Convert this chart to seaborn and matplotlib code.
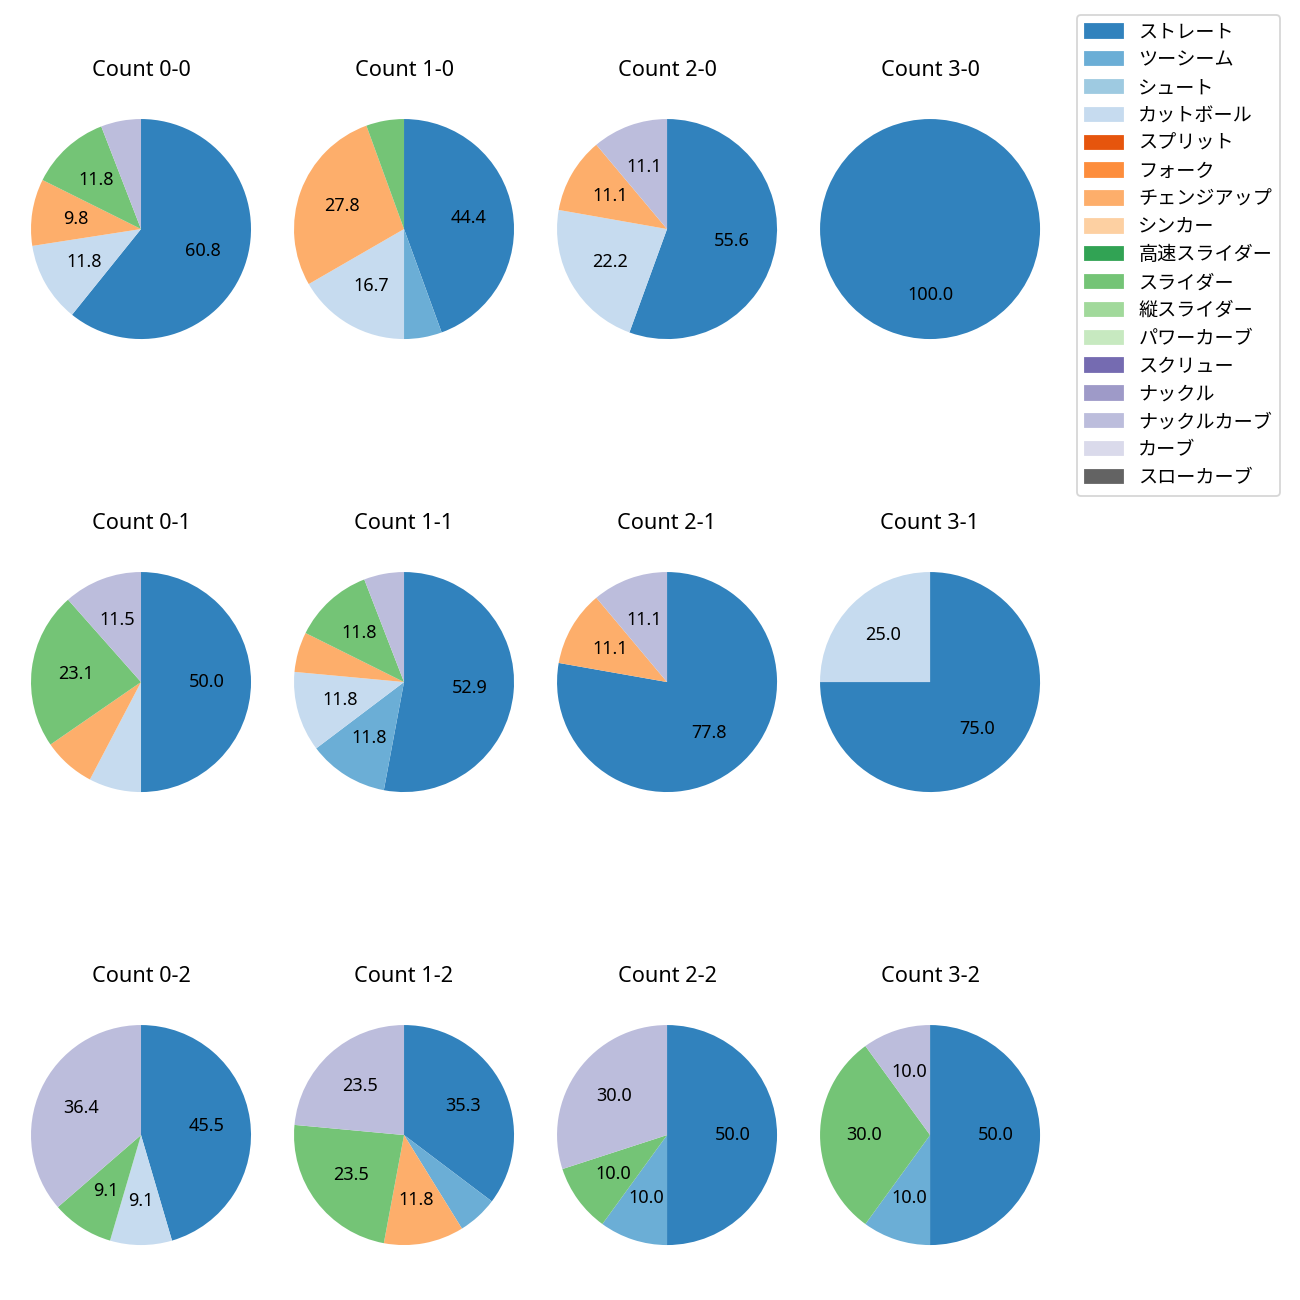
import matplotlib
matplotlib.use('Agg')
import matplotlib.pyplot as plt
from matplotlib.patches import Patch
import seaborn as sns

# 球種 (凡例の順番)
pitch_types = ['ストレート', 'ツーシーム', 'シュート', 'カットボール', 'スプリット', 'フォーク',
               'チェンジアップ', 'シンカー', '高速スライダー', 'スライダー', '縦スライダー',
               'パワーカーブ', 'スクリュー', 'ナックル', 'ナックルカーブ', 'カーブ', 'スローカーブ']

# カウント別の投球数 (pitch_types と同じ順番)
count_0_0 = [31, 0, 0, 6, 0, 0, 5, 0, 0, 6, 0, 0, 0, 0, 3, 0, 0]
count_1_0 = [8, 1, 0, 3, 0, 0, 5, 0, 0, 1, 0, 0, 0, 0, 0, 0, 0]
count_2_0 = [5, 0, 0, 2, 0, 0, 1, 0, 0, 0, 0, 0, 0, 0, 1, 0, 0]
count_3_0 = [1, 0, 0, 0, 0, 0, 0, 0, 0, 0, 0, 0, 0, 0, 0, 0, 0]
count_0_1 = [13, 0, 0, 2, 0, 0, 2, 0, 0, 6, 0, 0, 0, 0, 3, 0, 0]
count_1_1 = [9, 2, 0, 2, 0, 0, 1, 0, 0, 2, 0, 0, 0, 0, 1, 0, 0]
count_2_1 = [7, 0, 0, 0, 0, 0, 1, 0, 0, 0, 0, 0, 0, 0, 1, 0, 0]
count_3_1 = [3, 0, 0, 1, 0, 0, 0, 0, 0, 0, 0, 0, 0, 0, 0, 0, 0]
count_0_2 = [5, 0, 0, 1, 0, 0, 0, 0, 0, 1, 0, 0, 0, 0, 4, 0, 0]
count_1_2 = [6, 1, 0, 0, 0, 0, 2, 0, 0, 4, 0, 0, 0, 0, 4, 0, 0]
count_2_2 = [5, 1, 0, 0, 0, 0, 0, 0, 0, 1, 0, 0, 0, 0, 3, 0, 0]
count_3_2 = [5, 1, 0, 0, 0, 0, 0, 0, 0, 3, 0, 0, 0, 0, 1, 0, 0]

counts = {
    '0-0': count_0_0, '1-0': count_1_0, '2-0': count_2_0, '3-0': count_3_0,
    '0-1': count_0_1, '1-1': count_1_1, '2-1': count_2_1, '3-1': count_3_1,
    '0-2': count_0_2, '1-2': count_1_2, '2-2': count_2_2, '3-2': count_3_2,
}

# fuentes: latinas en Noto Sans, japonés en Noto Sans CJK JP
plt.rcParams['font.family'] = ['Noto Sans', 'Noto Sans CJK JP', 'DejaVu Sans']

colores = sns.color_palette('tab20c', 20)[:16] + [(0x63/255, 0x63/255, 0x63/255)]
color_de = dict(zip(pitch_types, colores))

fig, axes = plt.subplots(3, 4, figsize=(10, 10), dpi=130)
plt.subplots_adjust(left=0.0027, right=0.8212, bottom=0.0115, top=0.9392,
                    wspace=-0.0436, hspace=0.51)

for ax, (nombre, valores) in zip(axes.flat, counts.items()):
    etiquetas = [p for p, v in zip(pitch_types, valores) if v > 0]
    datos = [v for v in valores if v > 0]
    ax.pie(datos, colors=[color_de[p] for p in etiquetas], startangle=90,
           counterclock=False,
           autopct=lambda p: f'{p:.1f}' if p >= 8 else '')
    ax.set_aspect('equal')
    ax.set_title(f'Count {nombre}', pad=8.5)

handles = [Patch(color=color_de[p], label=p) for p in pitch_types]
fig.legend(handles=handles, loc='upper left', bbox_to_anchor=(0.8285, 0.9885),
           borderaxespad=0, fontsize=10.6, labelspacing=0.41)

plt.savefig('out.png', dpi=130)
